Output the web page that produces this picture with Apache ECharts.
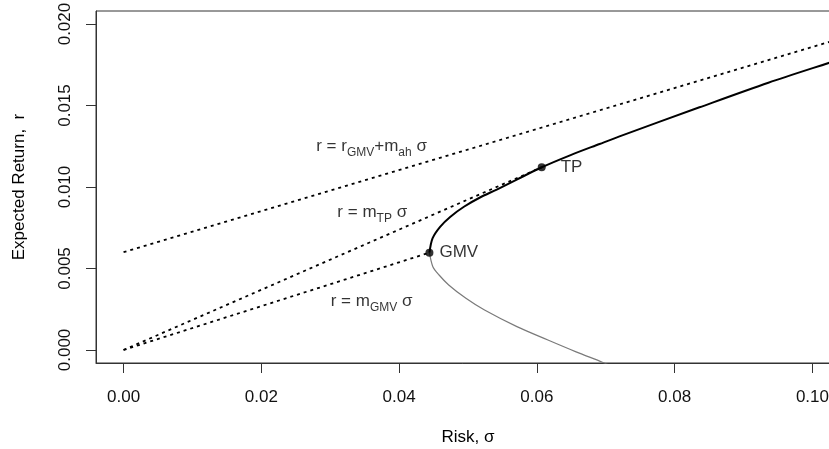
<!DOCTYPE html>
<html><head><meta charset="utf-8">
<script src="https://cdn.jsdelivr.net/npm/echarts@6/dist/echarts.min.js"></script>
<style>html,body{margin:0;padding:0;background:#fff;overflow:hidden}#c{width:829px;height:449px}</style>
</head><body><div id="c"></div>
<script>
// ---- data ----
const xTicks = [0, 0.02, 0.04, 0.06, 0.08, 0.10];
const yTicks = [0, 0.005, 0.010, 0.015, 0.020];

// efficient (upper) branch of the frontier: [sigma, r]
const frontierUpper = [
  [0.0444, 0.00597], [0.04485, 0.00685], [0.04595, 0.00756], [0.04745, 0.00818],
  [0.04941, 0.00879], [0.05167, 0.00934], [0.05425, 0.00986], [0.05715, 0.01047],
  [0.0607, 0.01121], [0.0649, 0.01196], [0.0691, 0.01264], [0.0719, 0.01309],
  [0.0836, 0.01489], [0.0936, 0.0164], [0.1025, 0.01763], [0.1045, 0.0179]
];
// inefficient (lower) branch
const frontierLower = [
  [0.0444, 0.00597], [0.0449, 0.00511], [0.0458, 0.0046], [0.0472, 0.00399],
  [0.0497, 0.00317], [0.0524, 0.00245], [0.0571, 0.00143], [0.0616, 0.00061],
  [0.0656, -0.0001], [0.0695, -0.00075], [0.0709, -0.001]
];
// special portfolios
const gmvPoint = [0.0444, 0.00597];
const tpPoint = [0.0607, 0.01121];
// dotted lines (endpoints)
const lineGmvAh = [[0, 0.006], [0.104, 0.0191]];
const lineTP = [[0, 0], tpPoint];
const lineGMV = [[0, 0], gmvPoint];
// equation annotations (data coordinates)
const eqLabels = [
  { value: [0.0360, 0.01258], text: '{n|r = r}{s|GMV}{n|+m}{s|ah}{n| σ}' },
  { value: [0.0361, 0.00855], text: '{n|r = m}{s|TP}{n| σ}' },
  { value: [0.0360, 0.00307], text: '{n|r = m}{s|GMV}{n| σ}' }
];

// ---- chart ----
const FONT = 'Liberation Sans, Arial, Helvetica, sans-serif';
const chart = echarts.init(document.getElementById('c'), null, { renderer: 'canvas' });
const dotted = { color: '#000', width: 1.8, type: [3, 4], cap: 'butt' };
const rich = {
  n: { fontSize: 17, fontFamily: FONT, color: '#000', lineHeight: 22, verticalAlign: 'top' },
  s: { fontSize: 12, fontFamily: FONT, color: '#000', lineHeight: 22, verticalAlign: 'top', padding: [9, 0, 0, 0] }
};
const axisLineStyle = { color: '#333', width: 1 };
const X_MIN = -0.004, X_MAX = 0.104;

chart.setOption({
  animation: false,
  backgroundColor: '#fff',
  grid: { left: 96, top: 11, right: -11, bottom: 86, show: true, borderColor: '#333', borderWidth: 1,
          outerBoundsMode: 'none', containLabel: false },
  xAxis: {
    type: 'value', min: X_MIN, max: X_MAX, position: 'bottom',
    name: 'Risk, σ', nameLocation: 'middle', nameGap: 66,
    nameTextStyle: { fontSize: 17, fontFamily: FONT, color: '#000' },
    axisLine: { show: true, onZero: false, lineStyle: axisLineStyle },
    splitLine: { show: false },
    axisTick: { show: true, length: 10, customValues: xTicks, lineStyle: axisLineStyle },
    axisLabel: { customValues: xTicks, margin: 26, fontSize: 17, fontFamily: FONT, color: '#111',
      formatter: v => v.toFixed(2) }
  },
  yAxis: {
    type: 'value', min: -0.0008, max: 0.0208,
    name: 'Expected Return,  r', nameLocation: 'middle', nameGap: 68,
    nameTextStyle: { fontSize: 17, fontFamily: FONT, color: '#000' },
    axisLine: { show: true, onZero: false, lineStyle: axisLineStyle },
    splitLine: { show: false },
    axisTick: { show: true, length: 10, customValues: yTicks, lineStyle: axisLineStyle },
    axisLabel: { customValues: yTicks, margin: 22, rotate: 90, fontSize: 17, fontFamily: FONT, color: '#111',
      formatter: v => v.toFixed(3) }
  },
  series: [
    { type: 'line', data: lineGmvAh, showSymbol: false, lineStyle: dotted, silent: true, z: 2 },
    { type: 'line', data: lineTP, showSymbol: false, lineStyle: dotted, silent: true, z: 2 },
    { type: 'line', data: lineGMV, showSymbol: false, lineStyle: dotted, silent: true, z: 2 },
    { type: 'line', data: frontierLower, showSymbol: false, smooth: 0.3, lineStyle: { color: '#7a7a7a', width: 1.2 }, z: 3 },
    { type: 'line', data: frontierUpper, showSymbol: false, smooth: 0.3, lineStyle: { color: '#000', width: 2 }, z: 4 },
    { type: 'scatter', data: [gmvPoint], symbolSize: 8, itemStyle: { color: '#000' }, z: 5,
      label: { show: true, position: 'right', distance: 6, formatter: 'GMV', fontSize: 17, fontFamily: FONT, color: '#000' } },
    { type: 'scatter', data: [tpPoint], symbolSize: 8, itemStyle: { color: '#000' }, z: 5,
      label: { show: true, position: 'right', distance: 15, formatter: 'TP', fontSize: 17, fontFamily: FONT, color: '#000' } },
    { type: 'scatter', symbolSize: 0, z: 6,
      data: eqLabels.map(d => ({ value: d.value, label: { formatter: d.text } })),
      label: { show: true, position: 'inside', offset: [0, 4], rich: rich } }
  ]
});
</script>
</body></html>
